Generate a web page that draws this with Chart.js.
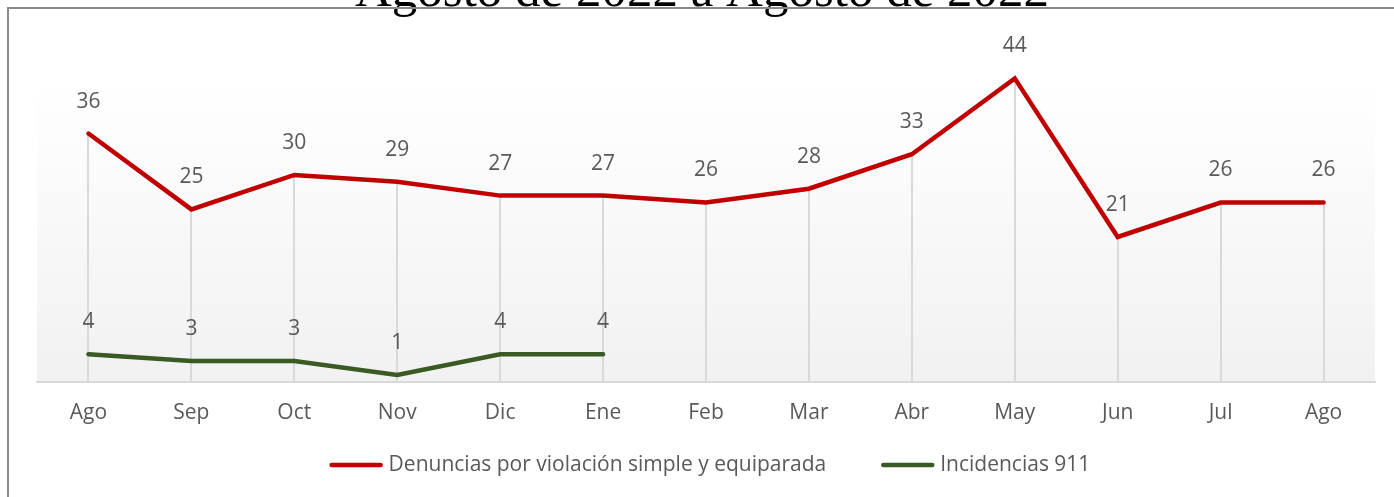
<!DOCTYPE html>
<html>
<head>
<meta charset="utf-8">
<script src="https://cdn.jsdelivr.net/npm/chart.js@4/dist/chart.umd.min.js"></script>
<style>
  html, body { margin: 0; padding: 0; background: #fff; }
  canvas { display: block; }
</style>
</head>
<body>
<canvas id="chart" width="1394" height="497"></canvas>
<script>
// values
const titleText = 'Agosto de 2022 a Agosto de 2022';
const months = ['Ago', 'Sep', 'Oct', 'Nov', 'Dic', 'Ene', 'Feb', 'Mar', 'Abr', 'May', 'Jun', 'Jul', 'Ago'];
const denuncias = [36, 25, 30, 29, 27, 27, 26, 28, 33, 44, 21, 26, 26];
const incidencias = [4, 3, 3, 1, 4, 4, null, null, null, null, null, null, null];

const FONT = "'Open Sans', 'Noto Sans', sans-serif";
const GREY_TEXT = '#595959';

// plot background, drop lines, frame, title and legend
const decor = {
  id: 'decor',
  beforeDraw(chart) {
    const { ctx, chartArea: a } = chart;
    const g = ctx.createLinearGradient(0, a.top, 0, a.bottom);
    g.addColorStop(0, '#ffffff');
    g.addColorStop(0.13, '#ffffff');
    g.addColorStop(1, '#f1f1f1');
    ctx.save();
    ctx.fillStyle = g;
    ctx.fillRect(a.left, a.top, a.right - a.left, a.bottom - a.top);
    ctx.restore();
  },
  beforeDatasetsDraw(chart) {
    const { ctx, chartArea: a } = chart;
    const x = chart.scales.x, y = chart.scales.y;
    ctx.save();
    ctx.strokeStyle = '#d9d9d9';
    ctx.lineWidth = 2;
    months.forEach((m, i) => {
      const vals = chart.data.datasets.map(d => d.data[i]).filter(v => v != null);
      if (!vals.length) return;
      const px = Math.round(x.getPixelForValue(i));
      ctx.beginPath();
      ctx.moveTo(px, y.getPixelForValue(Math.max(...vals)));
      ctx.lineTo(px, a.bottom);
      ctx.stroke();
    });
    ctx.restore();
  },
  afterDraw(chart) {
    const { ctx, width, height } = chart;
    ctx.save();
    // title, mostly cut off above the frame
    ctx.fillStyle = '#000';
    ctx.font = "51px 'Liberation Serif', serif";
    ctx.textAlign = 'center';
    ctx.textBaseline = 'alphabetic';
    ctx.fillText(titleText, 702, 6);
    ctx.strokeStyle = '#8a8a8a';
    ctx.lineWidth = 2;
    ctx.strokeRect(8, 8, width + 10, height + 10);

    // legend
    const boxW = 53, gapText = 6, gapItem = 55, ly = 465;
    ctx.font = '21px ' + FONT;
    const items = chart.data.datasets.map(d => ({ text: d.label, color: d.borderColor, w: ctx.measureText(d.label).width }));
    const total = items.reduce((s, it) => s + boxW + gapText + it.w, 0) + gapItem * (items.length - 1);
    let cx = 710 - total / 2;
    ctx.textAlign = 'left';
    ctx.textBaseline = 'middle';
    ctx.lineCap = 'round';
    ctx.lineWidth = 4.5;
    items.forEach(it => {
      ctx.strokeStyle = it.color;
      ctx.beginPath();
      ctx.moveTo(cx + 2, ly);
      ctx.lineTo(cx + boxW - 2, ly);
      ctx.stroke();
      ctx.fillStyle = GREY_TEXT;
      ctx.fillText(it.text, cx + boxW + gapText, ly);
      cx += boxW + gapText + it.w + gapItem;
    });
    ctx.restore();
  }
};

// value labels above each point
const valueLabels = {
  id: 'valueLabels',
  afterDatasetsDraw(chart) {
    const { ctx } = chart;
    ctx.save();
    ctx.fillStyle = GREY_TEXT;
    ctx.font = '21px ' + FONT;
    ctx.textAlign = 'center';
    ctx.textBaseline = 'middle';
    chart.data.datasets.forEach((ds, di) => {
      chart.getDatasetMeta(di).data.forEach((pt, i) => {
        if (ds.data[i] == null) return;
        ctx.fillText(String(ds.data[i]), pt.x, pt.y - 32);
      });
    });
    ctx.restore();
  }
};

new Chart(document.getElementById('chart'), {
  type: 'line',
  data: {
    labels: months,
    datasets: [
      {
        label: 'Denuncias por violación simple y equiparada',
        data: denuncias,
        borderColor: '#c00000',
        backgroundColor: '#c00000',
        borderWidth: 4.5,
        borderCapStyle: 'round',
        pointRadius: 0,
        tension: 0
      },
      {
        label: 'Incidencias 911',
        data: incidencias,
        borderColor: '#3a5a23',
        backgroundColor: '#3a5a23',
        borderWidth: 4.5,
        borderCapStyle: 'round',
        pointRadius: 0,
        tension: 0,
        spanGaps: false
      }
    ]
  },
  options: {
    responsive: false,
    devicePixelRatio: 1,
    animation: false,
    layout: { padding: { left: 37, right: 19, top: 37, bottom: 60 } },
    scales: {
      x: {
        offset: true,
        grid: { display: false },
        border: { display: true, color: '#d9d9d9', width: 2 },
        ticks: { color: GREY_TEXT, font: { family: FONT, size: 21 }, padding: 11, maxRotation: 0, autoSkip: false }
      },
      y: { display: false, min: 0, max: 50 }
    },
    plugins: {
      legend: { display: false },
      tooltip: { enabled: false }
    }
  },
  plugins: [decor, valueLabels]
});
</script>
</body>
</html>
